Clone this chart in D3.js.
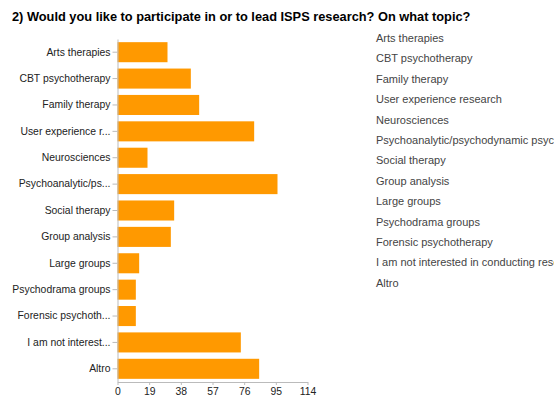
<html>
<head>
<script src="https://d3js.org/d3.v7.min.js"></script>
<style>
  body { margin: 0; background: #fff; }
  svg text { font-family: "Liberation Sans", Arial, sans-serif; }
</style>
</head>
<body>
<div id="container"></div>
<script>
// labels as shown on the axis, full names for the legend
var categories = ["Arts therapies", "CBT psychotherapy", "Family therapy", "User experience r...",
  "Neurosciences", "Psychoanalytic/ps...", "Social therapy", "Group analysis", "Large groups",
  "Psychodrama groups", "Forensic psychoth...", "I am not interest...", "Altro"];
var legendNames = ["Arts therapies", "CBT psychotherapy", "Family therapy", "User experience research",
  "Neurosciences", "Psychoanalytic/psychodynamic psychotherapy", "Social therapy", "Group analysis",
  "Large groups", "Psychodrama groups", "Forensic psychotherapy",
  "I am not interested in conducting research", "Altro"];
var counts = [30, 44, 49, 82, 18, 96, 34, 32, 13, 11, 11, 74, 85];
var xTicks = [0, 19, 38, 57, 76, 95, 114];

const width = 554, height = 399;
const svg = d3.select("#container").append("svg")
  .attr("width", width)
  .attr("height", height);

svg.append("text")
  .attr("x", 12)
  .attr("y", 21)
  .attr("font-size", "12.8px")
  .attr("font-weight", "bold")
  .attr("fill", "#000")
  .text("2) Would you like to participate in or to lead ISPS research? On what topic?");

var x = d3.scaleLinear().domain([0, 114]).range([117.5, 307.5]);
var y = d3.scaleBand().domain(categories).range([39, 382]).paddingInner(0.24).paddingOuter(0.12);

// bars
svg.selectAll("rect.bar")
  .data(categories)
  .enter().append("rect")
  .attr("class", "bar")
  .attr("x", x(0))
  .attr("y", function(d) { return y(d); })
  .attr("width", function(d, i) { return x(counts[i]) - x(0); })
  .attr("height", y.bandwidth())
  .attr("fill", "#ff9900");

// y axis
var yAxis = svg.append("g")
  .attr("transform", "translate(" + x(0) + ",0)")
  .call(d3.axisLeft(y).tickSize(5).tickSizeOuter(0));
yAxis.select(".domain").attr("stroke", "#bbb");
yAxis.selectAll(".tick line").attr("stroke", "#bbb");
yAxis.selectAll(".tick text")
  .attr("font-size", "10.4px")
  .attr("fill", "#222")
  .attr("x", -7);

// x axis
var xAxis = svg.append("g")
  .attr("transform", "translate(0,382)")
  .call(d3.axisBottom(x).tickValues(xTicks).tickSize(3).tickSizeOuter(0));
xAxis.select(".domain").attr("stroke", "#bbb");
xAxis.selectAll(".tick line").attr("stroke", "#bbb");
xAxis.selectAll(".tick text")
  .attr("font-size", "10.4px")
  .attr("fill", "#222")
  .attr("y", 6);

// legend (runs off the right edge like the original)
svg.append("g").selectAll("text")
  .data(legendNames)
  .enter().append("text")
  .attr("x", 376)
  .attr("y", function(d, i) { return 42 + i * 20.4; })
  .attr("font-size", "11px")
  .attr("fill", "#444")
  .text(function(d) { return d; });
</script>
</body>
</html>
